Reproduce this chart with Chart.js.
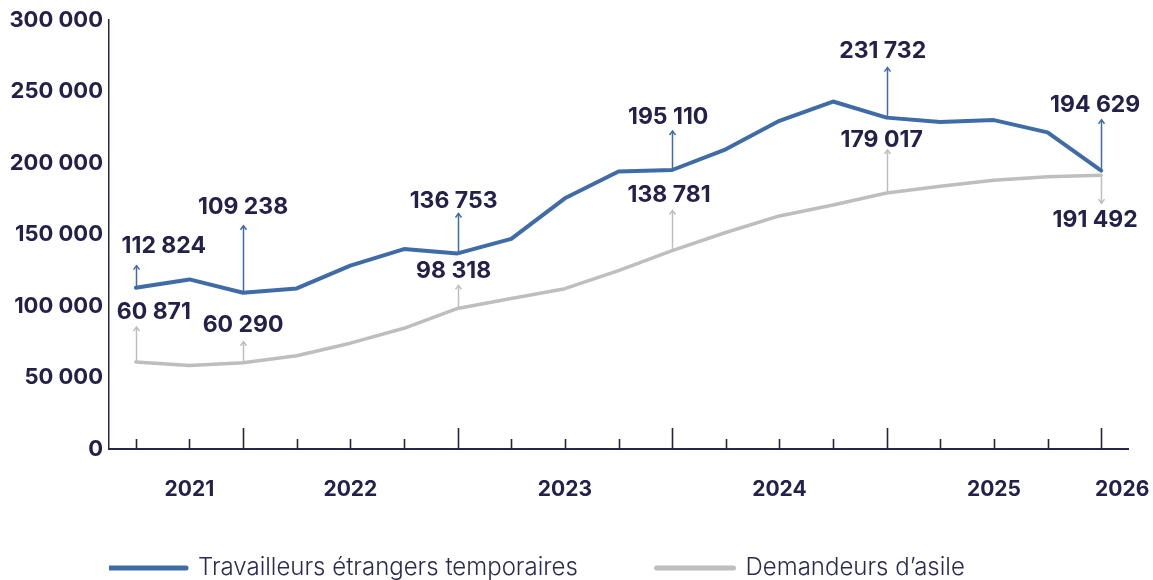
<!DOCTYPE html>
<html><head><meta charset="utf-8">
<script src="https://cdn.jsdelivr.net/npm/chart.js@4.4.1/dist/chart.umd.min.js"></script>
<style>html,body{margin:0;padding:0;background:#fff;}#wrap{width:1153px;height:580px;}</style>
</head><body><div id="wrap"><canvas id="c" width="1153" height="580"></canvas></div>
<script>
// ---------- data ----------
const categories = ['', '2021', '', '', '2022', '', '', '', '2023', '', '', '', '2024', '', '', '', '2025', '', '\u2003\u20032026'];
const seriesNames = ['Travailleurs étrangers temporaires', 'Demandeurs d\u2019asile'];
const travailleurs = [112824, 118600, 109238, 112300, 128200, 139800, 136753, 146900, 175300, 194000, 195110, 209600, 229500, 243000, 231732, 228600, 230000, 221400, 194629];
const demandeurs = [60871, 58400, 60290, 65200, 74000, 84400, 98318, 105200, 112100, 124800, 138781, 151400, 163000, 170600, 179017, 183800, 188000, 190300, 191492];
const yTicks = [0, 50000, 100000, 150000, 200000, 250000, 300000];
const majorTickIndices = [2, 6, 10, 14, 18];

// ---------- styles ----------
const TEXT = '#23214a';
const BLUE = '#3f6ca7';
const GREY = '#bebebe';
const FONT = 'Inter, "Noto Sans", sans-serif';
// arrow length and label offset (pixels) per annotated point
const annotationStyle = [
  {0: {len: 22, dx: 28, dy: -42}, 2: {len: 67, dx: 0, dy: -86}, 6: {len: 40, dx: -4, dy: -52},
   10: {len: 39, dx: -4, dy: -53}, 14: {len: 50, dx: -4, dy: -67}, 18: {len: 51, dx: -6, dy: -66}},
  {0: {len: 35, dx: 18, dy: -50}, 2: {len: 21, dx: 0, dy: -38}, 6: {len: 23, dx: -4, dy: -37},
   10: {len: 40, dx: -3, dy: -55}, 14: {len: 43, dx: -5, dy: -53}, 18: {len: -28, dx: -6, dy: 45}}
];
const legendGap = ['\u2003\u2003\u2003 ', ''];

const fmt = v => String(v).replace(/\B(?=(\d{3})+(?!\d))/g, ' ');

const overlay = {
  id: 'overlay',
  afterDatasetsDraw(chart) {
    const ctx = chart.ctx, xs = chart.scales.x, ys = chart.scales.y;
    ctx.save();
    // inward tick marks
    ctx.strokeStyle = '#24243c';
    ctx.lineWidth = 1.6;
    categories.forEach((_, i) => {
      const px = Math.round(xs.getPixelForValue(i)) + 0.5;
      const len = majorTickIndices.includes(i) ? 21 : 10;
      ctx.beginPath(); ctx.moveTo(px, ys.bottom); ctx.lineTo(px, ys.bottom - len); ctx.stroke();
    });
    // arrows + value labels
    chart.data.datasets.forEach((ds, di) => {
      const meta = chart.getDatasetMeta(di);
      Object.entries(annotationStyle[di]).forEach(([k, s]) => {
        const idx = +k, pt = meta.data[idx];
        const px = Math.round(pt.x) + 0.5, py = pt.y;
        const ty = py - s.len, dir = s.len > 0 ? 1 : -1;
        ctx.strokeStyle = ds.borderColor; ctx.lineWidth = 1.5; ctx.lineCap = 'butt';
        ctx.beginPath(); ctx.moveTo(px, py); ctx.lineTo(px, ty); ctx.stroke();
        ctx.beginPath(); ctx.moveTo(px - 3, ty + 4 * dir); ctx.lineTo(px, ty); ctx.lineTo(px + 3, ty + 4 * dir); ctx.stroke();
        ctx.fillStyle = TEXT; ctx.font = '700 23px ' + FONT;
        ctx.textAlign = 'center'; ctx.textBaseline = 'middle';
        ctx.fillText(fmt(ds.data[idx]), pt.x + s.dx, py + s.dy);
      });
    });
    ctx.restore();
  }
};

new Chart(document.getElementById('c'), {
  type: 'line',
  data: {
    labels: categories,
    datasets: [
      {label: seriesNames[0], data: travailleurs, borderColor: BLUE, backgroundColor: BLUE, borderWidth: 4,
       pointRadius: 0, tension: 0, borderCapStyle: 'round', borderJoinStyle: 'round'},
      {label: seriesNames[1], data: demandeurs, borderColor: GREY, backgroundColor: GREY, borderWidth: 3.5,
       pointRadius: 0, tension: 0, borderCapStyle: 'round', borderJoinStyle: 'round'}
    ]
  },
  options: {
    responsive: false, devicePixelRatio: 1, animation: false,
    layout: {padding: {left: 10, right: 25, top: 20, bottom: -10}},
    plugins: {
      tooltip: {enabled: false},
      legend: {
        position: 'bottom', align: 'start', fullSize: false,
        labels: {
          usePointStyle: true, pointStyle: 'line', pointStyleWidth: 77, padding: 0,
          color: '#2c2a50', font: {family: FONT, size: 24, weight: '300'},
          generateLabels: chart => Chart.defaults.plugins.legend.labels.generateLabels(chart).map((it, i) =>
            Object.assign(it, {text: it.text + legendGap[i], lineWidth: 5, lineCap: 'round'}))
        }
      }
    },
    scales: {
      x: {
        type: 'category', offset: true,
        grid: {display: false, drawTicks: false},
        border: {display: true, color: '#26264a', width: 2},
        ticks: {autoSkip: false, maxRotation: 0, padding: 28, color: TEXT,
                font: {family: FONT, size: 21, weight: '700'}, callback: (v, i) => categories[i]},
        afterFit: s => { s.height = 107; s.paddingLeft = 0; s.paddingRight = 0; }
      },
      y: {
        min: 0, max: 300000,
        grid: {display: false, drawTicks: false},
        border: {display: true, color: '#26264a', width: 1.5},
        afterBuildTicks: s => { s.ticks = yTicks.map(v => ({value: v})); },
        ticks: {padding: 6, color: TEXT, font: {family: FONT, size: 22, weight: '700'}, callback: v => fmt(v)},
        afterFit: s => { s.width = 99; }
      }
    }
  },
  plugins: [overlay]
});
</script></body></html>
